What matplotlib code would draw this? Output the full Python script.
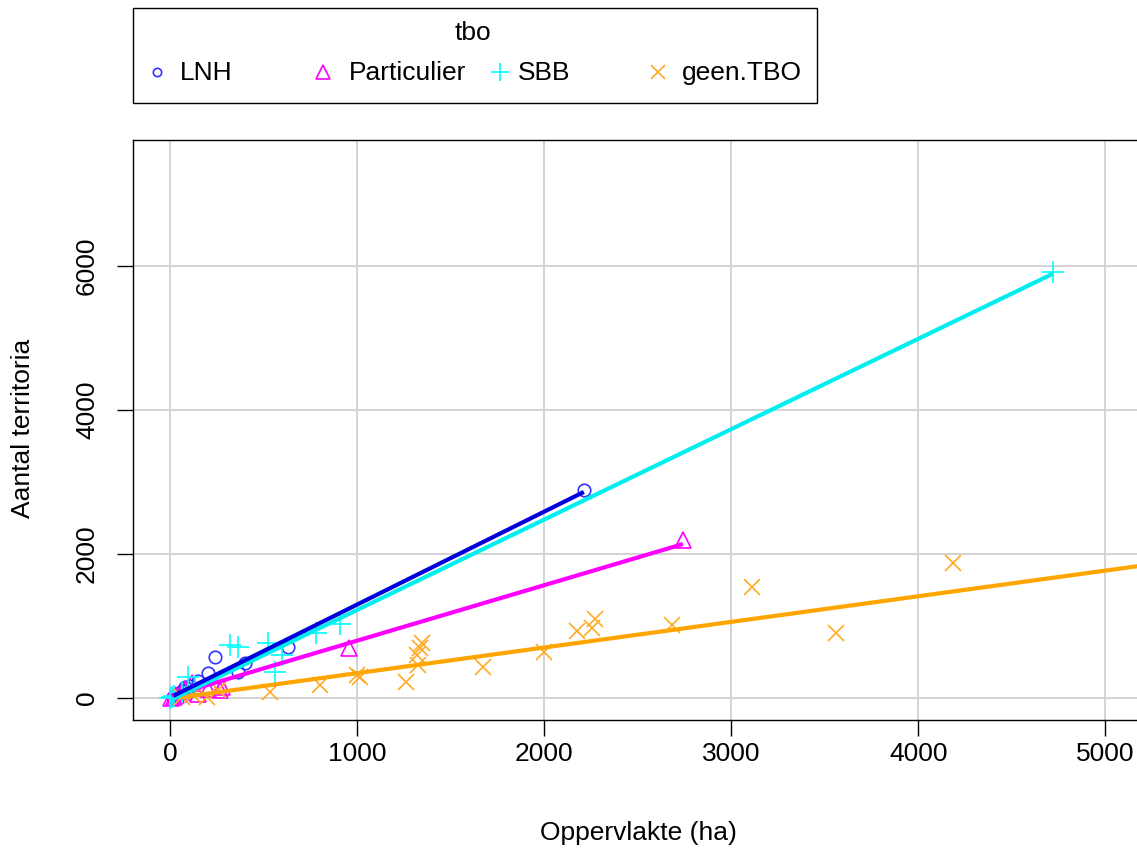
import matplotlib
matplotlib.use('Agg')
import matplotlib.pyplot as plt
from matplotlib.patches import Rectangle
import numpy as np

plt.rcParams['font.family'] = ['Liberation Sans', 'DejaVu Sans']

# ---------------- data ----------------
groups = ['LNH', 'Particulier', 'SBB', 'geen.TBO']

lnh_x = [2211, 628, 398, 361, 238, 200, 105, 150, 80, 60, 30, 15]
lnh_y = [2889, 708, 486, 361, 569, 347, 167, 230, 150, 100, 40, 20]

part_x = [2741, 955, 265, 275, 115, 200, 150, 80, 60, 30, 20, 5]
part_y = [2194, 694, 111, 153, 208, 130, 60, 120, 80, 40, 10, 0]

sbb_x = [4719, 319, 362, 521, 778, 906, 596, 559, 94, 130, 60, 20, 0, 10]
sbb_y = [5917, 736, 708, 764, 903, 1028, 597, 361, 292, 160, 80, 30, 0, 10]

geen_x = [4185, 3559, 3110, 2682, 2174, 2254, 2270, 1997, 1671, 1345, 1334,
          1318, 1324, 1259, 1000, 1013, 800, 532, 255, 195, 120, 60]
geen_y = [1875, 903, 1542, 1014, 931, 972, 1097, 639, 431, 764, 694,
          597, 458, 222, 319, 292, 181, 83, 111, 14, 40, 10]

# fitted lines per group: intercept, slope, x-range end
fit_intercept = [10, 28, -30, -10]
fit_slope = [1.29, 0.77, 1.255, 0.356]
fit_xmax = [2211, 2741, 4719, 5600]

x_ticks = [0, 1000, 2000, 3000, 4000, 5000]
y_ticks = [0, 2000, 4000, 6000]

# ---------------- styles ----------------
xs = [lnh_x, part_x, sbb_x, geen_x]
ys = [lnh_y, part_y, sbb_y, geen_y]
pt_colors = ['#3333FF', '#FF00FF', '#00FFFF', '#FFAA22']
ln_colors = ['#0000DD', '#FF00FF', '#00EEEE', '#FFA500']
markers = ['o', '^', '+', 'x']
msizes = [9, 12, 16, 12]
leg_msizes = [6, 10, 13, 10]

W, H = 1137, 850
FS = 19
fig = plt.figure(figsize=(W / 100, H / 100), dpi=100)
ax = fig.add_axes([133 / W, 1 - 720 / H, (1161.5 - 133) / W, 580 / H])
ax.set_xlim(-200, 5300)
ax.set_ylim(-305, 7750)

ax.set_xticks(x_ticks)
ax.set_yticks(y_ticks)
ax.grid(True, color='#d3d3d3', lw=1.4)
ax.set_axisbelow(True)

for i in range(4):
    ax.plot(xs[i], ys[i], linestyle='none', marker=markers[i], ms=msizes[i],
            mfc='none', mec=pt_colors[i], mew=1.2, zorder=3)

for i in [3, 1, 2, 0]:
    lx = np.array([min(xs[i]), fit_xmax[i]])
    ly = fit_intercept[i] + fit_slope[i] * lx
    ax.plot(lx, ly, color=ln_colors[i], lw=3.0, zorder=4, solid_capstyle='butt')

for s in ax.spines.values():
    s.set_linewidth(1.0)
    s.set_color('black')

ax.tick_params(direction='out', length=11.5, width=1.0, labelsize=FS,
               colors='black')
ax.tick_params(axis='x', pad=4)
ax.tick_params(axis='y', pad=13)
for lab in ax.get_yticklabels():
    lab.set_rotation(90)
    lab.set_va('center')

fig.text(638 / W, 1 - 833 / H, 'Oppervlakte (ha)', ha='center', va='center', fontsize=FS)
fig.text(23 / W, 1 - 428 / H, 'Aantal territoria', ha='center', va='center',
         rotation=90, fontsize=FS)

# ---------------- legend (drawn manually, pixel coordinates) ----------------
lg = fig.add_axes([0, 0, 1, 1])
lg.set_xlim(0, W)
lg.set_ylim(H, 0)
lg.axis('off')
lg.patch.set_visible(False)
lg.add_patch(Rectangle((133, 8), 684, 95, fill=False, edgecolor='black', lw=1.0))
lg.text(473, 33, 'tbo', ha='center', va='center', fontsize=FS)
leg_mx = [157, 323, 500, 658]
leg_tx = [180, 349, 518, 682]
for i in range(4):
    lg.plot([leg_mx[i]], [72], linestyle='none', marker=markers[i],
            ms=leg_msizes[i], mfc='none', mec=pt_colors[i], mew=1.2)
    lg.text(leg_tx[i], 73, groups[i], ha='left', va='center', fontsize=FS)

fig.savefig('out.png', dpi=100)
